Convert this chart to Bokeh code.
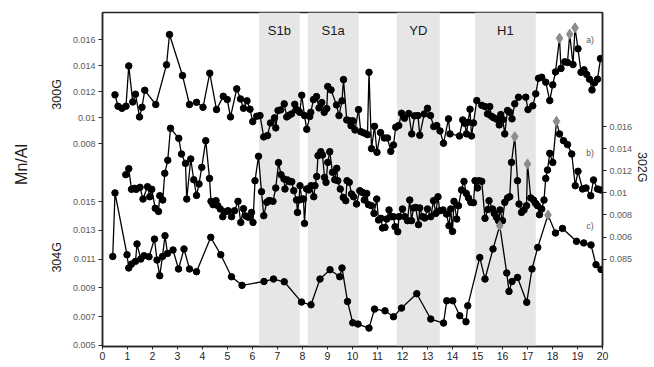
import math
from bokeh.plotting import figure
from bokeh.layouts import row
from bokeh.models import Range1d, LinearAxis, FixedTicker, BoxAnnotation, Label
from bokeh.embed import file_html
from bokeh.resources import INLINE

# ---------------- data ----------------
# a) core 300G : age (ka) and Mn/Al
age_300 = [0.50, 0.62, 0.78, 0.94, 1.05, 1.21, 1.32, 1.48, 1.58, 1.69, 2.13, 2.56, 2.68, 3.20, 3.48,
           3.76, 4.02, 4.29, 4.56, 4.83, 4.99, 5.12, 5.37, 5.52, 5.64, 5.78, 5.90, 6.01, 6.17, 6.30,
           6.45, 6.60, 6.72, 6.88, 6.93, 7.02, 7.13, 7.27, 7.37, 7.46, 7.56, 7.69, 7.76, 7.84, 7.89,
           7.97, 8.08, 8.17, 8.29, 8.33, 8.44, 8.56, 8.66, 8.77, 8.87, 8.97, 9.01, 9.14, 9.36, 9.46,
           9.58, 9.64, 9.77, 9.89, 9.94, 10.01, 10.10, 10.24, 10.33, 10.46, 10.60, 10.66, 10.76, 10.88,
           10.98, 11.12, 11.27, 11.40, 11.53, 11.64, 11.73, 11.85, 11.96, 12.08, 12.25, 12.37, 12.48,
           12.62, 12.69, 12.87, 13.00, 13.12, 13.25, 13.37, 13.50, 13.64, 13.84, 13.90, 14.28, 14.41,
           14.49, 14.56, 14.62, 14.70, 14.76, 14.84, 14.97, 15.17, 15.30, 15.40, 15.49, 15.56, 15.65,
           15.77, 15.87, 15.93, 16.01, 16.09, 16.20, 16.29, 16.38, 16.49, 16.64, 16.93, 17.02, 17.21,
           17.33, 17.44, 17.57, 17.73, 17.89, 18.01, 18.12, 18.28, 18.34, 18.49, 18.60, 18.69, 18.82,
           18.90, 19.02, 19.14, 19.26, 19.37, 19.48, 19.58, 19.68, 19.80, 19.92]
mnal_300 = [0.01176, 0.01089, 0.01073, 0.01089, 0.01398, 0.01122, 0.01181, 0.01007, 0.01081, 0.01211,
            0.01102, 0.01406, 0.01638, 0.01324, 0.01102, 0.01119, 0.01081, 0.01342, 0.01063, 0.01165,
            0.01140, 0.01007, 0.01222, 0.01145, 0.01073, 0.01130, 0.01066, 0.00971, 0.01012, 0.01017,
            0.00854, 0.00864, 0.00961, 0.01000, 0.00923, 0.01056, 0.01061, 0.01107, 0.01007, 0.01019,
            0.01030, 0.01104, 0.01063, 0.01053, 0.01042, 0.01173, 0.01017, 0.00912, 0.01010, 0.01042,
            0.01140, 0.01163, 0.01076, 0.01117, 0.01042, 0.01071, 0.01240, 0.01214, 0.01099, 0.01017,
            0.01130, 0.01293, 0.00984, 0.00977, 0.00940, 0.00977, 0.00907, 0.01063, 0.00894, 0.00884,
            0.00871, 0.01349, 0.00764, 0.00935, 0.00736, 0.00887, 0.00846, 0.00846, 0.00743, 0.00792,
            0.00928, 0.00941, 0.01035, 0.00997, 0.01033, 0.00877, 0.01015, 0.01017, 0.00866, 0.01030,
            0.01073, 0.01017, 0.00933, 0.00941, 0.00900, 0.00805, 0.00992, 0.00877, 0.00861, 0.00984,
            0.00958, 0.00877, 0.00966, 0.01066, 0.00861, 0.00961, 0.01132, 0.01096, 0.01086, 0.01030,
            0.01086, 0.01012, 0.01000, 0.00989, 0.00946, 0.01025, 0.00987, 0.00877, 0.01056, 0.01042,
            0.00992, 0.01107, 0.01158, 0.01158, 0.01063, 0.01092, 0.01184, 0.01303, 0.01311, 0.01273,
            0.01132, 0.01253, 0.01352, 0.01610, 0.01378, 0.01429, 0.01424, 0.01641, 0.01408, 0.01690,
            0.01529, 0.01349, 0.01368, 0.01332, 0.01296, 0.01214, 0.01268, 0.01296, 0.01454]
peaks_300 = [18.28, 18.69, 18.90]

# b) core 302G
age_302 = [0.93, 1.05, 1.16, 1.28, 1.35, 1.50, 1.62, 1.80, 1.89, 1.97, 2.11, 2.24, 2.29, 2.41, 2.49,
           2.61, 2.72, 3.05, 3.16, 3.32, 3.37, 3.53, 3.65, 3.76, 3.86, 3.97, 4.13, 4.28, 4.34, 4.42,
           4.54, 4.61, 4.71, 4.81, 4.92, 5.02, 5.16, 5.28, 5.42, 5.53, 5.64, 5.73, 5.84, 5.96, 6.02,
           6.10, 6.24, 6.36, 6.45, 6.57, 6.65, 6.70, 6.82, 6.93, 7.04, 7.14, 7.26, 7.30, 7.40, 7.49,
           7.57, 7.65, 7.76, 7.80, 7.86, 7.90, 7.97, 8.04, 8.08, 8.16, 8.25, 8.34, 8.45, 8.50, 8.57,
           8.62, 8.73, 8.80, 8.88, 8.94, 9.01, 9.09, 9.20, 9.29, 9.37, 9.41, 9.51, 9.63, 9.73, 9.78,
           9.87, 9.96, 10.04, 10.16, 10.29, 10.40, 10.47, 10.57, 10.64, 10.76, 10.86, 10.97, 11.04,
           11.14, 11.20, 11.30, 11.37, 11.46, 11.54, 11.64, 11.70, 11.81, 11.86, 12.00, 12.09, 12.20,
           12.29, 12.36, 12.44, 12.53, 12.64, 12.69, 12.80, 12.89, 13.00, 13.13, 13.24, 13.33, 13.42,
           13.49, 13.62, 13.76, 13.86, 13.93, 14.00, 14.06, 14.17, 14.24, 14.36, 14.46, 14.55, 14.64,
           14.73, 14.84, 14.90, 15.00, 15.06, 15.17, 15.30, 15.42, 15.46, 15.60, 15.67, 15.76, 15.84,
           15.90, 16.00, 16.09, 16.20, 16.29, 16.36, 16.49, 16.60, 16.66, 16.76, 16.86, 16.96, 17.00,
           17.13, 17.24, 17.32, 17.40, 17.48, 17.57, 17.66, 17.73, 17.80, 17.89, 18.01, 18.16, 18.28,
           18.44, 18.60, 18.77, 18.91, 19.02, 19.20, 19.34, 19.53, 19.64, 19.80, 19.93]
mnal_302 = [0.01165, 0.01219, 0.01032, 0.01041, 0.01032, 0.01050, 0.00944, 0.01056, 0.00965, 0.01032,
            0.00860, 0.00832, 0.00974, 0.00935, 0.01177, 0.01295, 0.01585, 0.01494, 0.01352, 0.01267,
            0.00944, 0.01307, 0.01119, 0.00977, 0.01080, 0.01231, 0.01473, 0.01131, 0.00923, 0.00893,
            0.00929, 0.00884, 0.00854, 0.00784, 0.00829, 0.00838, 0.00784, 0.00838, 0.00923, 0.00732,
            0.00857, 0.00790, 0.00778, 0.00823, 0.00732, 0.01110, 0.01331, 0.01011, 0.00793, 0.00914,
            0.00929, 0.00929, 0.00923, 0.01044, 0.01274, 0.01165, 0.01126, 0.01035, 0.01117, 0.01101,
            0.01101, 0.01020, 0.00935, 0.00823, 0.00935, 0.01065, 0.00944, 0.00944, 0.00723, 0.01035,
            0.01026, 0.01065, 0.00965, 0.01065, 0.01149, 0.01337, 0.01373, 0.01343, 0.01140, 0.01095,
            0.01276, 0.01373, 0.01186, 0.01119, 0.01222, 0.01110, 0.01035, 0.00959, 0.00929, 0.01110,
            0.01095, 0.00990, 0.00965, 0.00899, 0.01020, 0.01004, 0.00935, 0.00995, 0.00893, 0.00884,
            0.00814, 0.00944, 0.00754, 0.00769, 0.00682, 0.00687, 0.00763, 0.00845, 0.00784, 0.00784,
            0.00693, 0.00648, 0.00784, 0.00854, 0.00784, 0.00748, 0.00935, 0.00748, 0.00863, 0.00868,
            0.00712, 0.00863, 0.00784, 0.00772, 0.00854, 0.00784, 0.00929, 0.00814, 0.00965, 0.00838,
            0.00845, 0.00808, 0.00702, 0.00854, 0.00651, 0.00923, 0.00763, 0.00884, 0.01026, 0.01104,
            0.00995, 0.00954, 0.00914, 0.00911, 0.01110, 0.01044, 0.01110, 0.01104, 0.00769, 0.00850,
            0.00929, 0.00854, 0.00814, 0.00778, 0.00748, 0.00845, 0.00748, 0.00914, 0.00954, 0.00965,
            0.01276, 0.01509, 0.01110, 0.00899, 0.00823, 0.00845, 0.00884, 0.01262, 0.00954, 0.00935,
            0.00905, 0.00884, 0.00802, 0.00854, 0.00935, 0.01131, 0.01207, 0.01358, 0.01276, 0.01648,
            0.01534, 0.01473, 0.01437, 0.01352, 0.01065, 0.01195, 0.01035, 0.01044, 0.00974, 0.01117,
            0.01035, 0.01026]
peaks_302 = [16.49, 17.00, 18.16]

# c) core 304G
age_304 = [0.41, 0.50, 0.98, 1.05, 1.16, 1.32, 1.38, 1.53, 1.66, 1.86, 2.08, 2.18, 2.29, 2.40, 2.50,
           2.60, 2.82, 3.04, 3.26, 3.48, 3.76, 4.33, 4.73, 5.16, 5.58, 6.46, 6.84, 7.27, 7.96, 8.34,
           8.70, 9.10, 9.49, 9.58, 9.80, 10.01, 10.22, 10.66, 10.88, 11.30, 11.64, 11.96, 12.57, 13.13,
           13.64, 13.77, 14.01, 14.29, 14.54, 14.61, 15.09, 15.30, 15.62, 15.89, 16.17, 16.26, 16.38,
           16.60, 16.97, 17.18, 17.41, 17.82, 18.12, 18.40, 18.96, 19.25, 19.54, 19.74, 19.94]
mnal_304 = [0.01119, 0.01561, 0.01131, 0.01039, 0.01066, 0.01085, 0.01206, 0.01101, 0.01124, 0.01117,
            0.01240, 0.01094, 0.00985, 0.01119, 0.01263, 0.01140, 0.01164, 0.01032, 0.01171, 0.01032,
            0.01013, 0.01252, 0.01131, 0.00978, 0.00918, 0.00945, 0.00962, 0.00943, 0.00802, 0.00783,
            0.00962, 0.01027, 0.00978, 0.01039, 0.00806, 0.00658, 0.00649, 0.00621, 0.00753, 0.00741,
            0.00700, 0.00760, 0.00860, 0.00684, 0.00656, 0.00811, 0.00811, 0.00707, 0.00665, 0.00776,
            0.01112, 0.00962, 0.01171, 0.01333, 0.01004, 0.00876, 0.00945, 0.00973, 0.00800, 0.01032,
            0.01182, 0.01407, 0.01282, 0.01314, 0.01224, 0.01213, 0.01199, 0.01062, 0.01029]
peaks_304 = [15.89, 17.82]

# climatic events (start, end, name)
event_names = ["S1b", "S1a", "YD", "H1"]
event_start = [6.26, 8.21, 11.77, 14.90]
event_end = [7.89, 10.24, 13.49, 17.33]

# axis ticks
x_ticks = list(range(0, 21))
ticks_304 = [0.005, 0.007, 0.009, 0.011, 0.013, 0.015]
ticks_300 = [0.008, 0.010, 0.012, 0.014, 0.016]
ticks_302 = [0.004, 0.006, 0.008, 0.010, 0.012, 0.014, 0.016]
labels_302 = ["0.085", "0.006", "0.008", "0.01", "0.012", "0.014", "0.016"]

# ---------------- figure ----------------
FONT = "Liberation Sans"
H = 367

r304 = Range1d(0.00493, 0.02815)
r300 = Range1d(-0.00752, 0.01807)
r302 = Range1d(-0.00392, 0.02634)

p = figure(width=568, height=H, x_range=Range1d(0, 20), y_range=r304,
           output_backend="svg", toolbar_location=None,
           min_border_left=34, min_border_right=34, min_border_top=12, min_border_bottom=21)
p.extra_y_ranges = {"r300": r300, "r302": r302}
p.xgrid.visible = False
p.ygrid.visible = False
p.outline_line_color = "#262626"
p.outline_line_width = 1.5
p.background_fill_color = "white"
p.border_fill_color = "white"

for s, e in zip(event_start, event_end):
    p.add_layout(BoxAnnotation(left=s, right=e, fill_color="#e6e6e6", fill_alpha=1.0,
                               line_color=None, level="underlay"))


def fmt(v):
    s = "%.3f" % v
    return s.rstrip("0") if s.endswith("0") else s


def to_primary(v, src, dst):
    return dst.start + (v - src.start) * (dst.end - dst.start) / (src.end - src.start)


# left axis: 304G ticks and 300G ticks (converted to the primary scale)
left_ticks = list(ticks_304)
left_over = {t: fmt(t) for t in ticks_304}
for t in ticks_300:
    tp = to_primary(t, r300, r304)
    left_ticks.append(tp)
    left_over[tp] = fmt(t)

yax = p.yaxis[0]
yax.ticker = FixedTicker(ticks=left_ticks)
yax.major_label_overrides = left_over

xax = p.xaxis[0]
xax.ticker = FixedTicker(ticks=x_ticks)

rax = LinearAxis(y_range_name="r302", ticker=FixedTicker(ticks=ticks_302))
rax.major_label_overrides = {t: l for t, l in zip(ticks_302, labels_302)}
p.add_layout(rax, "right")

for ax in [yax, rax]:
    ax.major_label_text_font_size = "9px"
    ax.major_label_text_color = "#595959"
for ax in [xax, yax, rax]:
    ax.major_label_text_font = FONT
    ax.axis_line_color = "#262626"
    ax.axis_line_width = 1.5
    ax.major_tick_line_color = "#262626"
    ax.major_tick_in = 0
    ax.major_tick_out = 4
    ax.minor_tick_line_color = None
    ax.major_label_standoff = 3
xax.major_label_text_font_size = "10.5px"
xax.major_label_text_color = "#262626"
xax.major_tick_out = 3
xax.major_label_standoff = 2


def draw(ages, vals, peaks, rname):
    kw = {} if rname is None else {"y_range_name": rname}
    p.line(ages, vals, line_color="black", line_width=1.3, **kw)
    nx = [a for a in ages if a not in peaks]
    ny = [v for a, v in zip(ages, vals) if a not in peaks]
    px_ = [a for a in ages if a in peaks]
    py_ = [v for a, v in zip(ages, vals) if a in peaks]
    p.scatter(nx, ny, marker="circle", size=6.5, color="black", **kw)
    p.scatter(px_, py_, marker="diamond", size=10, color="#8c8c8c", **kw)


draw(age_300, mnal_300, peaks_300, "r300")
draw(age_302, mnal_302, peaks_302, "r302")
draw(age_304, mnal_304, peaks_304, None)

# event labels
for n, s, e in zip(event_names, event_start, event_end):
    p.add_layout(Label(x=(s + e) / 2, y=0.0269, text=n, text_align="center",
                       text_baseline="middle", text_font=FONT, text_font_size="13px",
                       text_color="#1a1a1a"))

# panel labels
for txt, yv, rn in [("a)", 0.0160, "r300"), ("b)", 0.01362, "r302"), ("c)", 0.01333, "default")]:
    p.add_layout(Label(x=19.5, y=yv, y_range_name=rn, text=txt, text_align="center",
                       text_baseline="middle", text_font=FONT, text_font_size="8.5px",
                       text_color="#595959"))

# ---- side panels holding the axis titles (screen-pixel coordinates) ----
def side_panel(w):
    f = figure(width=w, height=H, x_range=Range1d(0, w), y_range=Range1d(H, 0),
               output_backend="svg", toolbar_location=None, x_axis_type=None, y_axis_type=None,
               min_border=0)
    f.outline_line_color = None
    f.xgrid.visible = False
    f.ygrid.visible = False
    f.background_fill_color = "white"
    f.border_fill_color = "white"
    return f


left = side_panel(68)
right = side_panel(18)


def title(fig, x, y, text, angle, size):
    fig.add_layout(Label(x=x, y=y, text=text, angle=angle, text_align="center",
                         text_baseline="middle", text_font=FONT, text_font_size=size,
                         text_color="#1a1a1a"))


title(left, 21, 167, "Mn/Al", math.pi / 2, "16px")
title(left, 56.5, 90, "300G", math.pi / 2, "12.5px")
title(left, 56.5, 269, "304G", math.pi / 2, "12.5px")
title(right, 5, 170, "302G", -math.pi / 2, "12.5px")

layout = row(left, p, right, spacing=0)
open("out.html", "w").write(file_html(layout, INLINE))
